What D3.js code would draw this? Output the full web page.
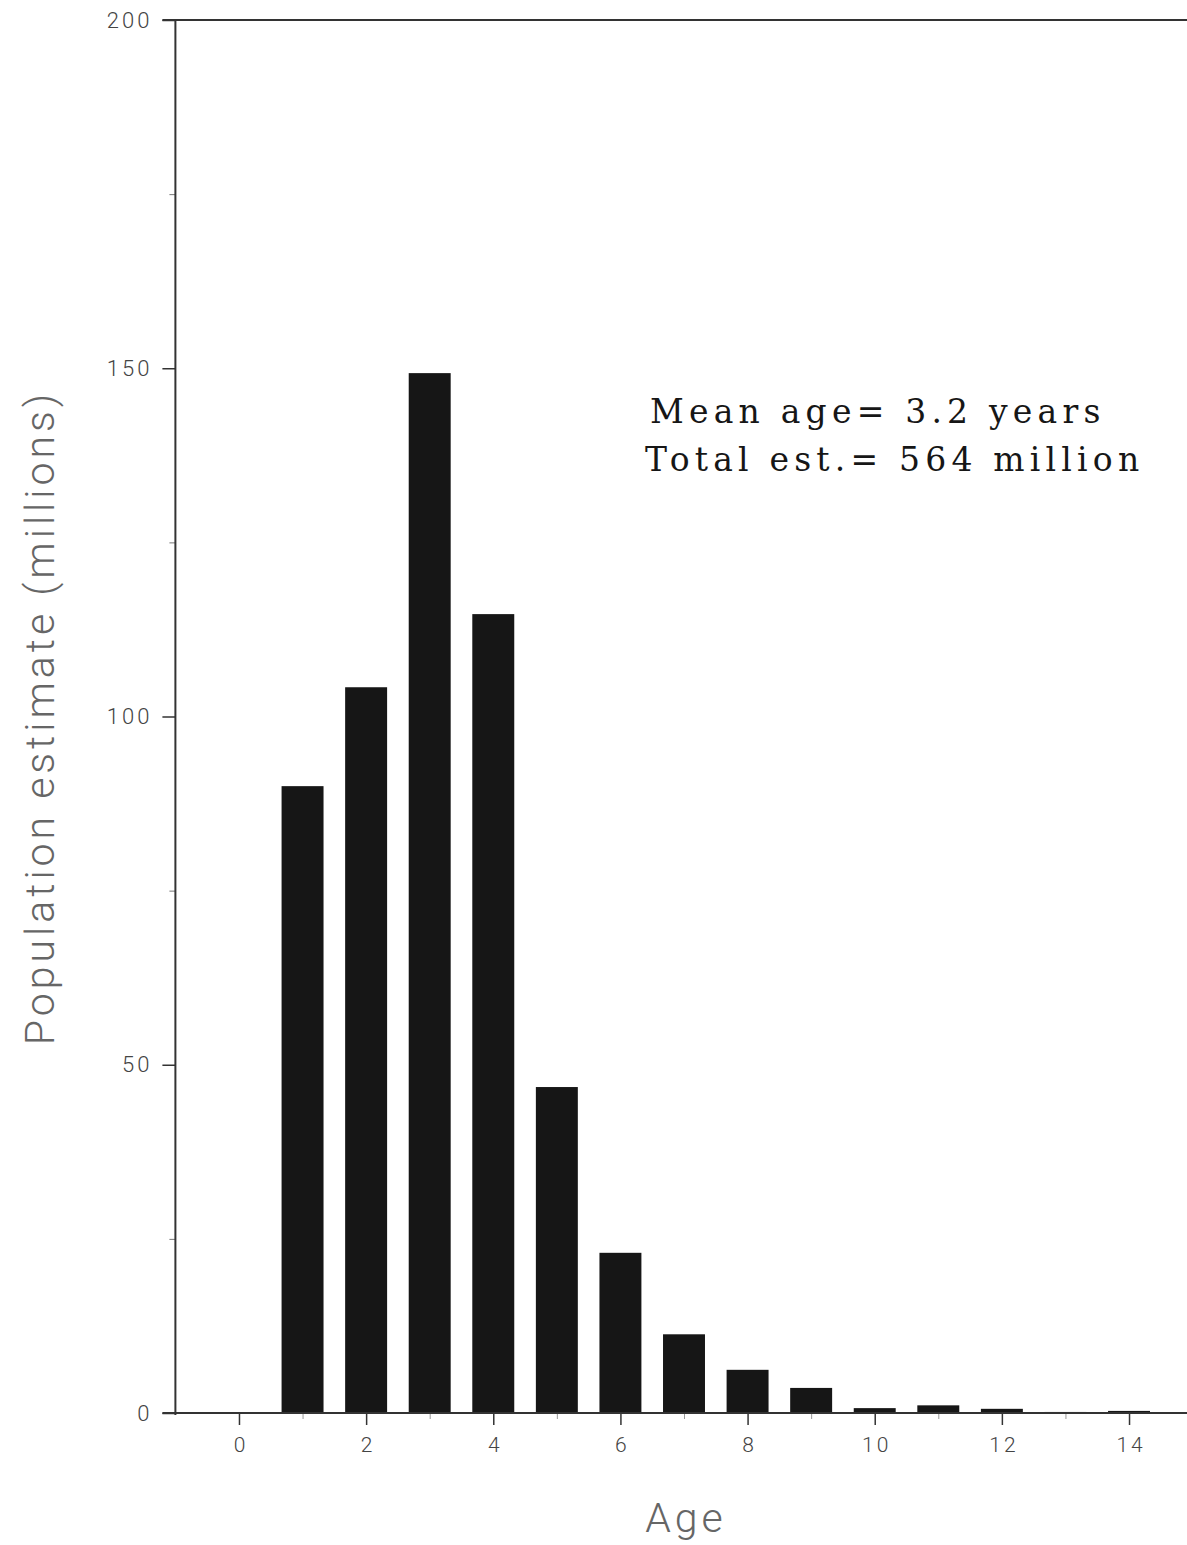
<!DOCTYPE html>
<html>
<head>
<meta charset="utf-8">
<script src="https://cdn.jsdelivr.net/npm/d3@7"></script>
<style>
  html, body { margin: 0; padding: 0; background: #fff; }
  svg { display: block; }
</style>
</head>
<body>
<svg id="chart" width="1187" height="1545"></svg>
<script>
// Age classes and their population estimates (millions)
const ages = [1, 2, 3, 4, 5, 6, 7, 8, 9, 10, 11, 12, 13, 14];
const populations = [90, 104.2, 149.3, 114.7, 46.8, 23, 11.3, 6.2, 3.6, 0.7, 1.1, 0.6, 0.15, 0.3];

const yMajorTicks = [0, 50, 100, 150, 200];
const yMinorTicks = [25, 75, 125, 175];
const xMajorTicks = [0, 2, 4, 6, 8, 10, 12, 14];
const xMinorTicks = [1, 3, 5, 7, 9, 11, 13];

const noteLines = ["Mean age= 3.2 years", "Total est.= 564 million"];

const svg = d3.select("#chart");

const x = d3.scaleLinear().domain([-1, 15]).range([175.4, 1192.6]);
const y = d3.scaleLinear().domain([0, 200]).range([1413, 20]);
const barW = x(0.66) - x(0);

const axisColor = "#333";
const labelColor = "#666";
const tickFont = "Roboto, 'Liberation Sans', sans-serif";

// Bars
svg.append("g")
  .selectAll("rect")
  .data(ages.map((a, i) => ({ age: a, v: populations[i] })))
  .join("rect")
  .attr("x", d => x(d.age) - barW / 2)
  .attr("width", barW)
  .attr("y", d => y(d.v))
  .attr("height", d => y(0) - y(d.v))
  .attr("fill", "#161616");

// Y axis (left) with outer ticks
const yAxis = d3.axisLeft(y).tickValues(yMajorTicks).tickSize(13).tickPadding(10)
  .tickFormat(d3.format("d"));
const gy = svg.append("g").attr("transform", `translate(${x(-1)},0)`).call(yAxis);
gy.select(".domain").remove();
gy.selectAll(".tick line").attr("stroke", axisColor).attr("stroke-width", 1.5);
gy.selectAll(".tick text")
  .attr("font-family", tickFont)
  .attr("font-weight", 300)
  .attr("font-size", 22)
  .attr("letter-spacing", 3)
  .attr("fill", "#444");

const gyMinor = d3.axisLeft(y).tickValues(yMinorTicks).tickSize(6).tickFormat("");
const gym = svg.append("g").attr("transform", `translate(${x(-1)},0)`).call(gyMinor);
gym.select(".domain").remove();
gym.selectAll(".tick line").attr("stroke", "#777").attr("stroke-width", 1);

// X axis (bottom) with ticks below
const xAxis = d3.axisBottom(x).tickValues(xMajorTicks).tickSize(12).tickPadding(12)
  .tickFormat(d3.format("d"));
const gx = svg.append("g").attr("transform", `translate(0,${y(0)})`).call(xAxis);
gx.select(".domain").remove();
gx.selectAll(".tick line").attr("stroke", axisColor).attr("stroke-width", 1.5);
gx.selectAll(".tick text")
  .attr("font-family", tickFont)
  .attr("font-weight", 300)
  .attr("font-size", 21)
  .attr("letter-spacing", 3)
  .attr("dx", 1.5)
  .attr("fill", "#444");

const gxMinor = d3.axisBottom(x).tickValues(xMinorTicks).tickSize(6).tickFormat("");
const gxm = svg.append("g").attr("transform", `translate(0,${y(0)})`).call(gxMinor);
gxm.select(".domain").remove();
gxm.selectAll(".tick line").attr("stroke", "#999").attr("stroke-width", 1);

// Frame lines: left axis, baseline and top line
svg.append("line")
  .attr("x1", x(-1)).attr("x2", x(-1))
  .attr("y1", y(200)).attr("y2", y(0) + 2)
  .attr("stroke", axisColor).attr("stroke-width", 2);
svg.append("line")
  .attr("x1", x(-1) - 13).attr("x2", x(15))
  .attr("y1", y(0)).attr("y2", y(0))
  .attr("stroke", axisColor).attr("stroke-width", 2);
svg.append("line")
  .attr("x1", x(-1) - 13).attr("x2", x(15))
  .attr("y1", y(200)).attr("y2", y(200))
  .attr("stroke", axisColor).attr("stroke-width", 2);

// Axis titles
svg.append("text")
  .attr("transform", `translate(54,${(395 + 1040) / 2}) rotate(-90)`)
  .attr("text-anchor", "middle")
  .attr("font-family", tickFont)
  .attr("font-weight", 300)
  .attr("font-size", 41)
  .attr("letter-spacing", 4)
  .attr("fill", labelColor)
  .text("Population estimate (millions)");

svg.append("text")
  .attr("x", 686)
  .attr("y", 1532)
  .attr("text-anchor", "middle")
  .attr("font-family", tickFont)
  .attr("font-weight", 300)
  .attr("font-size", 41)
  .attr("letter-spacing", 4)
  .attr("fill", labelColor)
  .text("Age");

// Summary note
svg.append("g")
  .selectAll("text")
  .data(noteLines)
  .join("text")
  .attr("x", (d, i) => i === 0 ? 650 : 645)
  .attr("y", (d, i) => 423 + i * 48)
  .attr("font-family", "'DejaVu Serif', serif")
  .attr("font-size", 33)
  .attr("letter-spacing", 5.2)
  .attr("fill", "#161616")
  .text(d => d);
</script>
</body>
</html>
